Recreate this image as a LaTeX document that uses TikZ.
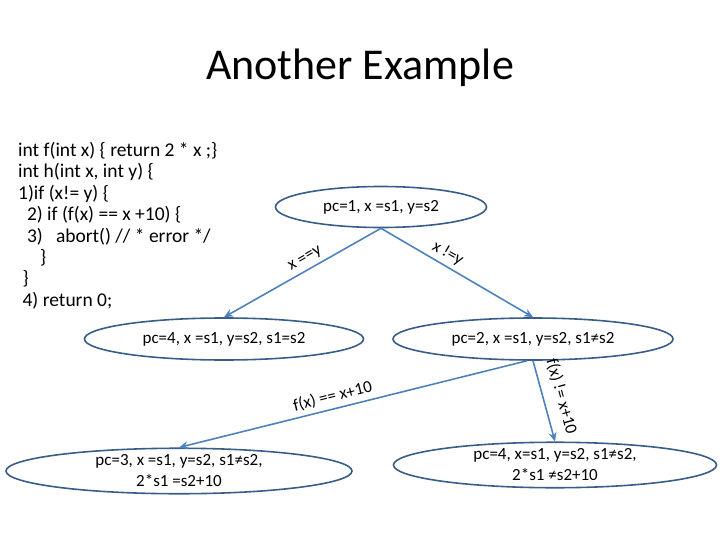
\documentclass[tikz,border=0pt]{standalone}
\usepackage{fontspec}
\setmainfont{Carlito}
\usetikzlibrary{shapes.geometric,arrows.meta}
\definecolor{edgeb}{RGB}{79,129,189}
\definecolor{outl}{RGB}{56,93,138}
\begin{document}
\begin{tikzpicture}[x=1pt,y=-1pt,
  st/.style={ellipse,draw=outl,line width=1.6pt,inner sep=0pt,font=\fontsize{17}{21}\selectfont,align=center},
  ed/.style={draw=edgeb,line width=1.6pt,-{Stealth[length=9pt,width=8pt]}},
  lb/.style={font=\fontsize{17}{20}\selectfont,sloped,above=3pt,inner sep=1pt}]
\useasboundingbox (0,0) rectangle (720,540);
\node (title) at (360,68) {\fontsize{44}{52}\selectfont Another Example};
\node[anchor=north west,align=left,font=\fontsize{19.5}{21.4}\selectfont,inner sep=0pt] (code) at (18,142) {int f(int x) \{ return 2 * x ;\}\\
int h(int x, int y) \{\\
1)if (x!= y) \{\\
\ \ 2) if (f(x) == x +10) \{\\
\ \ 3)\ \ \ abort() // * error */\\
\ \ \ \ \ \}\\
\ \}\\
\ 4)\ return 0;};
\node[st,minimum width=211pt,minimum height=41pt] (a) at (381,207) {pc=1, x =s1, y=s2};
\node[st,minimum width=279pt,minimum height=42pt] (b) at (224,339) {pc=4, x =s1, y=s2, s1=s2};
\node[st,minimum width=280pt,minimum height=42pt] (c) at (533,339) {pc=2, x =s1, y=s2, s1≠s2};
\node[st,minimum width=346pt,minimum height=44pt] (d) at (179,471) {pc=3, x =s1, y=s2, s1≠s2,\\2*s1 =s2+10};
\node[st,minimum width=323pt,minimum height=44pt] (e) at (555,465) {pc=4, x=s1, y=s2, s1≠s2,\\2*s1 ≠s2+10};
\draw[ed] (a.south) -- node[lb,pos=0.45] {x ==y} (b.north);
\draw[ed] (a.south) -- node[lb,pos=0.4] {x !=y} (c.north);
\draw[ed] ([xshift=-6pt]c.south) -- node[lb,pos=0.55] {f(x) == x+10} (d.north);
\draw[ed] (c.south) -- node[lb,above=6pt,pos=0.5] {f(x) != x+10} (e.north);
\end{tikzpicture}
\end{document}
